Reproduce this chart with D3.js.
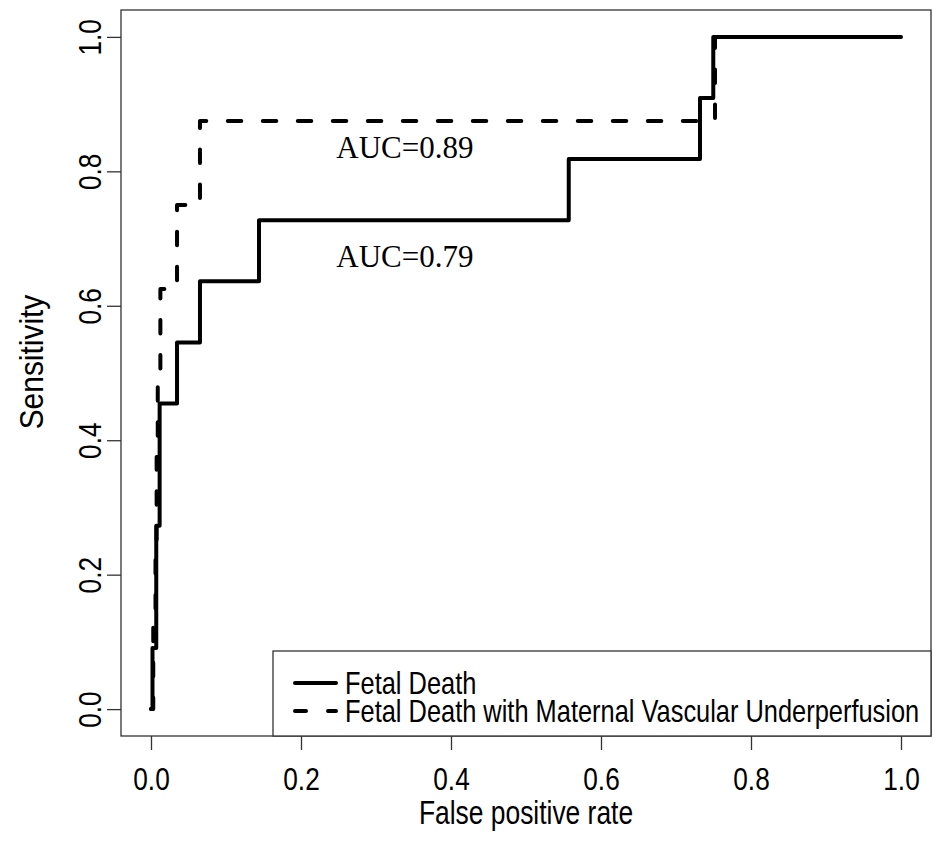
<!DOCTYPE html>
<html>
<head>
<meta charset="utf-8">
<script src="https://cdn.jsdelivr.net/npm/d3@7"></script>
<style>
  html, body { margin: 0; padding: 0; background: #fff; }
  svg { display: block; }
  .sans { font-family: "Liberation Sans", Arial, Helvetica, sans-serif; }
  .serif { font-family: "Liberation Serif", "Times New Roman", serif; }
</style>
</head>
<body>
<script>
// ---- Data ----
const xTicks = [0.0, 0.2, 0.4, 0.6, 0.8, 1.0];
const yTicks = [0.0, 0.2, 0.4, 0.6, 0.8, 1.0];
const xLabel = "False positive rate";
const yLabel = "Sensitivity";

// Fetal Death (solid) ROC step points
const fdFpr  = [0, 0.002, 0.002, 0.007, 0.007, 0.0115, 0.0115, 0.0347, 0.0347, 0.0653, 0.0653, 0.144, 0.144, 0.557, 0.557, 0.732, 0.732, 0.7497, 0.7497, 1.0];
const fdSens = [0, 0, 0.0909, 0.0909, 0.2727, 0.2727, 0.4545, 0.4545, 0.5455, 0.5455, 0.6364, 0.6364, 0.7273, 0.7273, 0.8182, 0.8182, 0.9091, 0.9091, 1.0, 1.0];

// Fetal Death with Maternal Vascular Underperfusion (dashed)
const mvuFpr  = [0, 0.003, 0.003, 0.006, 0.006, 0.0075, 0.0075, 0.009, 0.009, 0.0125, 0.0125, 0.0347, 0.0347, 0.0653, 0.0653, 0.752, 0.752, 1.0];
const mvuSens = [0, 0, 0.125, 0.125, 0.25, 0.25, 0.375, 0.375, 0.5, 0.5, 0.625, 0.625, 0.75, 0.75, 0.875, 0.875, 1.0, 1.0];

const seriesNames = ["Fetal Death", "Fetal Death with Maternal Vascular Underperfusion"];
const aucLabels = ["AUC=0.79", "AUC=0.89"];
const aucPos = [[0.247, 0.657], [0.247, 0.820]]; // [fpr, sens] of label baseline-left

// ---- Layout ----
const W = 934, H = 853;
const svg = d3.select("body").append("svg").attr("width", W).attr("height", H);

const x = d3.scaleLinear().domain([-0.04, 1.04]).range([121, 931]);
const y = d3.scaleLinear().domain([-0.04, 1.04]).range([736, 10]);
const narrow = 0.82;
const axisColor = "#333";

// Box
svg.append("rect")
  .attr("x", x(-0.04)).attr("y", y(1.04))
  .attr("width", x(1.04) - x(-0.04)).attr("height", y(-0.04) - y(1.04))
  .attr("fill", "none").attr("stroke", axisColor).attr("stroke-width", 1.3);

// X axis
const xAxis = d3.axisBottom(x).tickValues(xTicks).tickSize(14).tickPadding(0).tickFormat(() => "");
const gx = svg.append("g").attr("transform", `translate(0,${y(-0.04)})`).call(xAxis);
gx.select(".domain").remove();
gx.selectAll(".tick line").attr("stroke", axisColor).attr("stroke-width", 1.3);
gx.selectAll(".tick").append("text")
  .attr("class", "sans")
  .attr("transform", `translate(0,54) scale(${narrow},1)`)
  .attr("text-anchor", "middle")
  .attr("fill", "#000")
  .style("font-size", "32px")
  .text(d => d3.format(".1f")(d));

// Y axis
const yAxis = d3.axisLeft(y).tickValues(yTicks).tickSize(14).tickPadding(0).tickFormat(() => "");
const gy = svg.append("g").attr("transform", `translate(${x(-0.04)},0)`).call(yAxis);
gy.select(".domain").remove();
gy.selectAll(".tick line").attr("stroke", axisColor).attr("stroke-width", 1.3);
gy.selectAll(".tick").append("text")
  .attr("class", "sans")
  .attr("transform", `translate(-20,0) rotate(-90) scale(${narrow},1)`)
  .attr("text-anchor", "middle")
  .attr("fill", "#000")
  .style("font-size", "32px")
  .text(d => d3.format(".1f")(d));

// Axis titles
svg.append("text").attr("class", "sans")
  .attr("transform", `translate(${(x(-0.04) + x(1.04)) / 2},824) scale(0.8,1)`)
  .attr("text-anchor", "middle").style("font-size", "33px").text(xLabel);
svg.append("text").attr("class", "sans")
  .attr("transform", `translate(43,${(y(-0.04) + y(1.04)) / 2 - 11}) rotate(-90) scale(0.88,1)`)
  .attr("text-anchor", "middle").style("font-size", "34px").text(yLabel);

// Curves
const line = d3.line().x(d => x(d[0])).y(d => y(d[1]));
const fdData = fdFpr.map((f, i) => [f, fdSens[i]]);
const mvuData = mvuFpr.map((f, i) => [f, mvuSens[i]]);

svg.append("path").datum(fdData).attr("d", line)
  .attr("fill", "none").attr("stroke", "#000").attr("stroke-width", 4)
  .attr("stroke-linecap", "round").attr("stroke-linejoin", "round");
svg.append("path").datum(mvuData).attr("d", line)
  .attr("fill", "none").attr("stroke", "#000").attr("stroke-width", 4)
  .attr("stroke-dasharray", "13.5,21.5")
  .attr("stroke-linecap", "round").attr("stroke-linejoin", "round");

// AUC labels
aucLabels.forEach((t, i) => {
  svg.append("text").attr("class", "serif")
    .attr("x", x(aucPos[i][0])).attr("y", y(aucPos[i][1]))
    .style("font-size", "31px").attr("fill", "#000").text(t);
});

// Legend
const lg = svg.append("g");
const lgX0 = 273, lgY0 = 651, lgX1 = x(1.04), lgY1 = y(-0.04);
lg.append("rect").attr("x", lgX0).attr("y", lgY0)
  .attr("width", lgX1 - lgX0).attr("height", lgY1 - lgY0)
  .attr("fill", "#fff").attr("stroke", axisColor).attr("stroke-width", 1.3);
const lgRows = [683, 711];
seriesNames.forEach((name, i) => {
  lg.append("line").attr("x1", 295).attr("x2", 336).attr("y1", lgRows[i]).attr("y2", lgRows[i])
    .attr("stroke", "#000").attr("stroke-width", 4).attr("stroke-linecap", "round")
    .attr("stroke-dasharray", i === 1 ? "11,22" : null);
  lg.append("text").attr("class", "sans")
    .attr("transform", `translate(345,${lgRows[i] + 11}) scale(${narrow},1)`)
    .style("font-size", "31px").attr("fill", "#000").text(name);
});
</script>
</body>
</html>
